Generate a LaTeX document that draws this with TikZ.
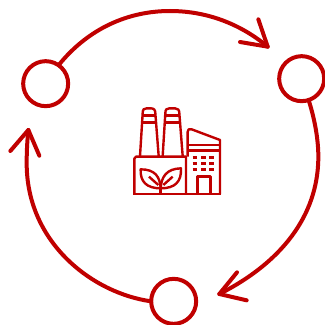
\documentclass[tikz,border=0pt]{standalone}
\definecolor{brand}{HTML}{C00000}
\tikzset{
  ring/.style={circle,draw=brand,line width=4pt,minimum size=45pt,inner sep=0pt,outer sep=0pt},
  flow/.style={draw=brand,line width=4pt,line cap=round,line join=round},
  icon/.style={draw=brand,line width=2.4pt,line join=round},
  dots/.style={draw=brand,line width=2.6pt}
}
\begin{document}
\begin{tikzpicture}[x=0.33333pt,y=-0.33333pt]
\useasboundingbox (0,0) rectangle (975,975);
\clip (0,0) rectangle (975,975);
\node[ring] (nl) at (137,251) {};
\node[ring] (nr) at (905,236) {};
\node[ring] (nb) at (521,904) {};
\coordinate (t1) at (803,140);
\coordinate (t2) at (658,882);
\coordinate (t3) at (85,390);
% connectors
\path[flow] (nl.55) .. controls (265,85) and (385,33) .. (510,33) .. controls (625,33) and (725,75) .. (t1);
\path[flow] (t1) -- (775,58) (t1) -- (720,126);
\path[flow] (nr.-72) .. controls (945,360) and (955,420) .. (955,470) .. controls (955,650) and (840,790) .. (t2);
\path[flow] (t2) -- (711,817) (t2) -- (740,901);
\path[flow] (nb.west) .. controls (280,880) and (80,730) .. (80,490) .. controls (80,450) and (82,420) .. (t3);
\path[flow] (t3) -- (31,453) (t3) -- (118,467);
% factory
\path[icon] (403,582) -- (403,476) -- (408,470) -- (558,470) -- (558,582);
\path[icon] (400,582) -- (662,582);
\path[icon] (563,470) -- (563,395) .. controls (563,388) and (568,385) .. (575,388) -- (660,420) -- (660,582);
\path[icon] (563,435) -- (660,435) (563,452) -- (660,452);
\path[dots] (578,473) -- (592,473) (603,473) -- (617,473) (628,473) -- (643,473)
            (578,490) -- (592,490) (603,490) -- (617,490) (628,490) -- (643,490)
            (578,508) -- (592,508) (603,508) -- (617,508) (628,508) -- (643,508);
\path[icon] (592,582) -- (592,530) -- (632,530) -- (632,582);
\path[icon] (420,468) -- (428,340) .. controls (428,328) and (432,325) .. (440,325) -- (452,325) .. controls (462,325) and (466,330) .. (466,340) -- (476,468);
\path[icon] (428,347) -- (466,347) (426,367) -- (468,367);
\path[icon] (488,468) -- (496,340) .. controls (496,328) and (500,325) .. (508,325) -- (525,325) .. controls (534,325) and (538,330) .. (538,340) -- (548,468);
\path[icon] (496,347) -- (538,347) (494,367) -- (540,367);
\path[icon] (482,582) -- (482,565);
\path[icon] (482,565) .. controls (480,530) and (465,508) .. (422,508) .. controls (420,545) and (440,565) .. (482,565);
\path[icon] (482,565) .. controls (484,530) and (500,506) .. (543,505) .. controls (545,545) and (525,565) .. (482,565);
\path[icon] (447,530) -- (475,555) (518,530) -- (490,555);
\end{tikzpicture}
\end{document}
